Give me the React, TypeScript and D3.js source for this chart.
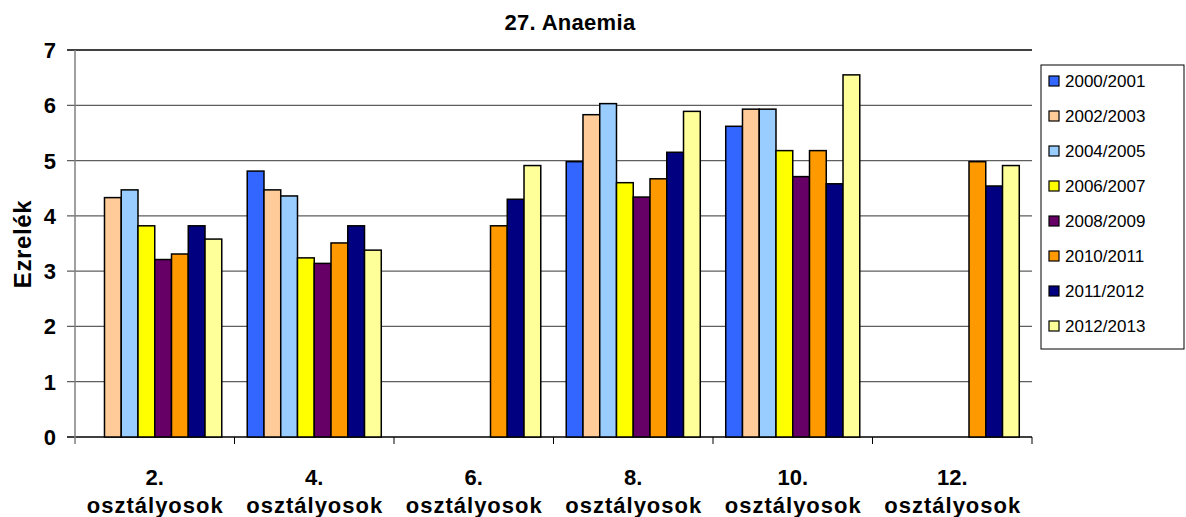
import React from "react";
import * as d3 from "d3";

const categories = ["2.", "4.", "6.", "8.", "10.", "12."];
const seriesNames = ["2000/2001", "2002/2003", "2004/2005", "2006/2007", "2008/2009", "2010/2011", "2011/2012", "2012/2013"];
const seriesColors = ["#3366FF", "#FFCC99", "#99CCFF", "#FFFF00", "#660066", "#FF9900", "#000080", "#FFFF99"];
// values[series][category]; null = no bar
const s2000 = [null, 4.81, null, 4.98, 5.62, null];
const s2002 = [4.33, 4.47, null, 5.83, 5.93, null];
const s2004 = [4.47, 4.36, null, 6.03, 5.93, null];
const s2006 = [3.82, 3.24, null, 4.6, 5.18, null];
const s2008 = [3.21, 3.14, null, 4.34, 4.71, null];
const s2010 = [3.31, 3.51, 3.82, 4.67, 5.18, 4.98];
const s2011 = [3.82, 3.82, 4.3, 5.15, 4.58, 4.54];
const s2012 = [3.58, 3.38, 4.91, 5.89, 6.55, 4.91];
const seriesValues = [s2000, s2002, s2004, s2006, s2008, s2010, s2011, s2012];
const yTicks = [0, 1, 2, 3, 4, 5, 6, 7];
const title = "27. Anaemia";
const yLabel = "Ezrelék";
const catSuffix = "osztályosok";

export default function App() {
  const W = 1186, H = 517;
  const left = 75, right = 1032, top = 50, bottom = 437;
  const x = d3.scaleBand<string>().domain(categories).range([left, right]).padding(0);
  const inner = d3.scaleBand<string>().domain(seriesNames).range([0, x.bandwidth()]).paddingInner(0).paddingOuter(0.76);
  const y = d3.scaleLinear().domain([0, 7]).range([bottom, top]);
  const font = "Arial, 'Liberation Sans', sans-serif";

  return (
    <svg width={W} height={H} style={{ position: "absolute", left: 0, top: 0, background: "#fff" }} fontFamily={font}>
      <rect x={0} y={0} width={W} height={H} fill="#fff" />
      <text x={570} y={30} textAnchor="middle" fontSize={22} fontWeight="bold" letterSpacing={0.3}>{title}</text>
      {/* gridlines */}
      {yTicks.map((t) => (
        <g key={t}>
          <line x1={67} x2={right} y1={y(t)} y2={y(t)} stroke={t === 7 || t === 0 ? "#000" : "#5e5e5e"} strokeWidth={1.3} />
          <text x={56} y={y(t) + 8} textAnchor="end" fontSize={22} fontWeight="bold">{t}</text>
        </g>
      ))}
      <line x1={left} x2={left} y1={top} y2={bottom + 7} stroke="#808080" strokeWidth={1.5} />
      {/* bars */}
      {seriesValues.map((vals, si) =>
        vals.map((v, ci) =>
          v == null ? null : (
            <rect
              key={si + "-" + ci}
              x={(x(categories[ci]) as number) + (inner(seriesNames[si]) as number)}
              y={y(v)}
              width={inner.bandwidth()}
              height={y(0) - y(v)}
              fill={seriesColors[si]}
              stroke="#000"
              strokeWidth={1.5}
            />
          )
        )
      )}
      {/* category ticks */}
      {categories.map((c, i) => (
        <line key={"t" + i} x1={(x(c) as number) + x.bandwidth()} x2={(x(c) as number) + x.bandwidth()} y1={bottom} y2={bottom + 7} stroke="#000" strokeWidth={1} />
      ))}
      {categories.map((c) => {
        const cx = (x(c) as number) + x.bandwidth() / 2;
        return (
          <g key={"l" + c}>
            <text x={cx} y={485} textAnchor="middle" fontSize={22} fontWeight="bold">{c}</text>
            <text x={cx + 0.5} y={513} textAnchor="middle" fontSize={22} fontWeight="bold" letterSpacing={1}>{catSuffix}</text>
          </g>
        );
      })}
      <text transform={`translate(31,244) rotate(-90)`} textAnchor="middle" fontSize={24} fontWeight="bold" letterSpacing={0.6}>{yLabel}</text>
      {/* legend */}
      <rect x={1041} y={65} width={143} height={284} fill="#fff" stroke="#000" strokeWidth={1} />
      {seriesNames.map((n, i) => {
        const cy = 81 + i * 35;
        return (
          <g key={n}>
            <rect x={1049} y={cy - 5} width={10} height={10} fill={seriesColors[i]} stroke="#000" strokeWidth={1.2} />
            <text x={1065} y={cy + 6} fontSize={17}>{n}</text>
          </g>
        );
      })}
    </svg>
  );
}
